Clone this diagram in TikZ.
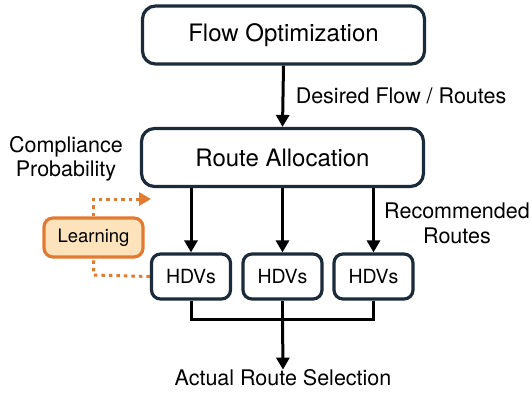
\documentclass[tikz,border=0pt]{standalone}
\usepackage{fontspec}
\setmainfont{TeX Gyre Heros}
\usetikzlibrary{arrows.meta}
\definecolor{navy}{HTML}{1C2B3A}
\definecolor{lorange}{HTML}{FCE3BC}
\definecolor{dorange}{HTML}{E27A30}
\tikzset{
  bigbox/.style={draw=navy, line width=3.2pt, rounded corners=13pt, fill=white, minimum width=282pt, minimum height=58pt, font=\fontsize{24}{28}\selectfont},
  smallbox/.style={draw=navy, line width=3.2pt, rounded corners=9pt, fill=white, minimum width=79pt, minimum height=45pt, font=\fontsize{19.5}{22}\selectfont},
  learnbox/.style={draw=dorange, line width=3.2pt, rounded corners=9pt, fill=lorange, minimum width=99pt, minimum height=39pt, font=\fontsize{18.5}{22}\selectfont},
  lbl/.style={font=\fontsize{21.5}{24.5}\selectfont, align=center, inner sep=0pt},
  flowarrow/.style={line width=3pt, draw=black, -{Triangle[length=12pt,width=13pt]}},
  flowline/.style={line width=3pt, draw=black},
  dotarrow/.style={line width=3pt, draw=dorange, dash pattern=on 3.5pt off 4pt, -{Triangle[length=12pt,width=13pt]}},
  dotline/.style={line width=3pt, draw=dorange, dash pattern=on 3.5pt off 4pt},
}
\begin{document}
\begin{tikzpicture}[x=1pt,y=1pt]
\useasboundingbox (0,0) rectangle (532,-397);
\node[bigbox] (flow) at (283.5,-35) {Flow Optimization};
\node[bigbox] (route) at (282.5,-157.5) {Route Allocation};
\node[smallbox] (h1) at (191,-276.5) {HDVs};
\node[smallbox] (h2) at (282.5,-276.5) {HDVs};
\node[smallbox] (h3) at (373.5,-276.5) {HDVs};
\node[learnbox] (learn) at (93.5,-237.5) {Learning};
\node[lbl] (desired) at (401,-96) {Desired Flow / Routes};
\node[lbl] (comp) at (66,-159) {Compliance\\Probability};
\node[lbl] (rec) at (457,-223.5) {Recommended\\Routes};
\node[lbl] (actual) at (283,-378) {Actual Route Selection};
\coordinate (m1) at (191,-319);
\coordinate (m2) at (282.5,-319);
\coordinate (m3) at (373.5,-319);
\coordinate (ltop) at (93.5,-199);
\coordinate (ltip) at (151,-199);
\coordinate (lbot) at (93.5,-275);
\draw[flowarrow] (flow.south) -- (route.north);
\draw[flowarrow] (route.south -| h1.north) -- (h1.north);
\draw[flowarrow] (route.south -| h2.north) -- (h2.north);
\draw[flowarrow] (route.south -| h3.north) -- (h3.north);
\draw[flowline] (h1.south) -- (m1) -- (m3) -- (h3.south);
\draw[flowline] (h2.south) -- (m2);
\draw[flowarrow] (m2) -- (actual.north);
\draw[dotarrow] (learn.north) -- (ltop) -- (ltip);
\draw[dotline] (h1.west) -- (lbot) -- (learn.south);
\end{tikzpicture}
\end{document}
